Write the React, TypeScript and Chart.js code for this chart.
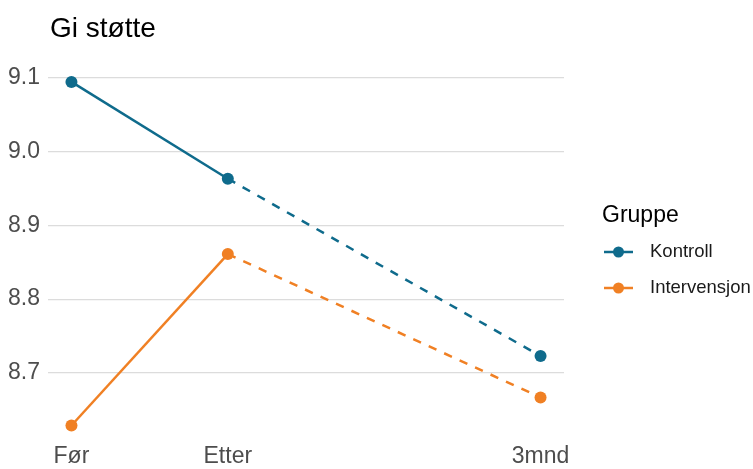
import React, { useEffect, useRef } from "react";
import { Chart, registerables } from "chart.js";

Chart.register(...registerables);

const TITLE = "Gi støtte";
const LEGEND_TITLE = "Gruppe";
const CATEGORIES = ["Før", "Etter", "3mnd"];
const X_POS = [0, 1, 3];
const SERIES_NAMES = ["Kontroll", "Intervensjon"];
const KONTROLL = [9.094, 8.963, 8.723];
const INTERVENSJON = [8.629, 8.861, 8.667];
const COLORS = ["#0f6b8c", "#f08024"];
const Y_TICKS = [8.7, 8.8, 8.9, 9.0, 9.1];
const Y_MIN = 8.606;
const Y_MAX = 9.117;
const X_MIN = -0.15;
const X_MAX = 3.15;

const FONT = "'Liberation Sans', Arial, sans-serif";

const extrasPlugin = {
  id: "extras",
  afterDraw(chart: any) {
    const ctx = chart.ctx;
    ctx.save();
    // title
    ctx.fillStyle = "#000000";
    ctx.font = `28px ${FONT}`;
    ctx.textAlign = "left";
    ctx.textBaseline = "alphabetic";
    ctx.fillText(TITLE, 50, 37);
    // legend
    ctx.font = `23px ${FONT}`;
    ctx.fillStyle = "#000000";
    ctx.fillText(LEGEND_TITLE, 602, 222);
    chart.data.datasets.forEach((ds: any, i: number) => {
      const y = 252 + i * 36;
      ctx.strokeStyle = ds.borderColor;
      ctx.lineWidth = 2.5;
      ctx.setLineDash([]);
      ctx.beginPath();
      ctx.moveTo(604, y);
      ctx.lineTo(633, y);
      ctx.stroke();
      ctx.fillStyle = ds.borderColor;
      ctx.beginPath();
      ctx.arc(618.5, y, 5.5, 0, Math.PI * 2);
      ctx.fill();
      ctx.fillStyle = "#1a1a1a";
      ctx.font = `18.5px ${FONT}`;
      ctx.textBaseline = "alphabetic";
      ctx.fillText(ds.label, 650, y + 5);
    });
    ctx.restore();
  },
};

export default function App() {
  const ref = useRef<HTMLCanvasElement | null>(null);

  useEffect(() => {
    if (!ref.current) return;
    const seriesValues = [KONTROLL, INTERVENSJON];
    const datasets = SERIES_NAMES.map((name, i) => ({
      label: name,
      data: X_POS.map((x, j) => ({ x, y: seriesValues[i][j] })),
      borderColor: COLORS[i],
      backgroundColor: COLORS[i],
      borderWidth: 2.5,
      pointRadius: 6,
      pointHoverRadius: 6,
      pointBorderWidth: 0,
      tension: 0,
      fill: false,
      segment: {
        borderDash: (c: any) => (c.p0DataIndex >= 1 ? [8.5, 8.5] : undefined),
      },
    }));

    const chart = new Chart(ref.current, {
      type: "line",
      data: { datasets },
      options: {
        responsive: false,
        animation: false,
        devicePixelRatio: 1,
        layout: { padding: { left: 0, right: 189, top: 64.9, bottom: 0 } },
        plugins: {
          legend: { display: false },
          title: { display: false },
          tooltip: { enabled: false },
        },
        scales: {
          x: {
            type: "linear",
            min: X_MIN,
            max: X_MAX,
            grid: { display: false, drawTicks: false },
            border: { display: false },
            afterBuildTicks: (scale: any) => {
              scale.ticks = X_POS.map((v) => ({ value: v }));
            },
            afterFit: (scale: any) => {
              scale.height = 26.5;
            },
            ticks: {
              autoSkip: false,
              maxRotation: 0,
              padding: 0,
              color: "#4d4d4d",
              font: { family: FONT, size: 23 },
              callback: (v: any) => {
                const idx = X_POS.indexOf(Number(v));
                return idx >= 0 ? CATEGORIES[idx] : "";
              },
            },
          },
          y: {
            type: "linear",
            min: Y_MIN,
            max: Y_MAX,
            grid: { color: "#dcdcdc", lineWidth: 1.2, drawTicks: false },
            border: { display: false },
            afterBuildTicks: (scale: any) => {
              scale.ticks = Y_TICKS.map((v) => ({ value: v }));
            },
            afterFit: (scale: any) => {
              scale.width = 48;
            },
            ticks: {
              autoSkip: false,
              padding: 8,
              color: "#4d4d4d",
              font: { family: FONT, size: 23 },
              callback: (v: any) => Number(v).toFixed(1),
            },
          },
        },
      },
      plugins: [extrasPlugin],
    });
    return () => chart.destroy();
  }, []);

  return (
    <div style={{ position: "fixed", left: 0, top: 0, width: 753, height: 469, background: "#ffffff" }}>
      <canvas ref={ref} width={753} height={469} style={{ width: 753, height: 469, display: "block" }} />
    </div>
  );
}
